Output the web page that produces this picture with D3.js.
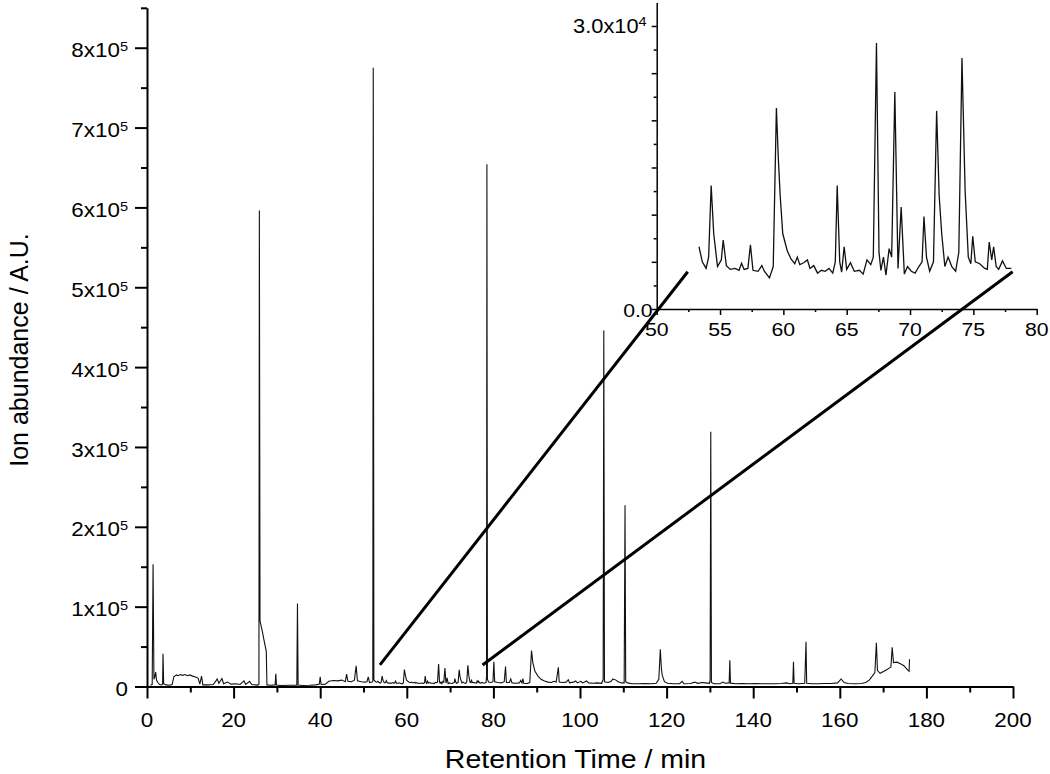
<!DOCTYPE html>
<html><head><meta charset="utf-8">
<script src="https://cdn.jsdelivr.net/npm/d3@7"></script>
<style>
body{margin:0;background:#fff}
svg{display:block}
text{font-family:"Liberation Sans", Arial, Helvetica, sans-serif; fill:#000}
</style>
</head><body>
<svg id="c" width="1050" height="774"></svg>
<script>
// ---- data (time in min, abundance in A.U.) ----
const mainEarly = [[0.8,1500],[1.2,2500],[1.4,153000],[1.6,9000],[1.8,12000],[2.0,18000],[2.2,8000],[2.5,5000],[2.9,2500],[3.4,2000],[3.6,3000],[3.7,41000],[3.85,3500],[4.4,2000],[5.2,1500],[5.8,2500],[6.2,12000],[6.8,14500],[7.2,13500],[7.7,15000],[8.2,14000],[8.8,15000],[9.3,13500],[9.9,14500],[10.5,13000],[11.2,12000],[11.8,10500],[12.2,3000],[12.6,13000],[12.9,2000],[14,2000],[15.3,2500],[15.8,6000],[16.2,9500],[16.6,4000],[17.3,10000],[17.7,3500],[18.6,5500],[19.4,3000],[20.5,3500],[21.5,2500],[22.4,7000],[22.8,2500],[23.7,6500],[24.2,2500],[25.5,1800],[25.85,3000],[25.95,596000],[26.1,82000],[26.6,70000],[27.1,56000],[27.55,44000],[27.7,2000],[28.6,1500],[29.6,2000],[29.75,16000],[29.9,1800],[31,1200],[33,1500],[34.6,1500],[34.75,104000],[34.9,1800],[36,1300],[37.5,1500],[39,2000],[39.8,3000],[40.0,12000],[40.2,2500],[41.2,3000],[42,6500],[43,7500],[44,7000],[45,8000],[45.8,6000],[46.1,15500],[46.4,6500],[47.2,6000],[47.9,8000],[48.3,26000],[48.6,7000],[49.5,6000],[50.3,5500],[50.8,6000],[51.1,12000],[51.4,5000],[52.0,5500],[52.15,7000],[52.25,775000],[52.4,8000],[52.8,6000],[53.1,5500]];

const insetTrace = [[53.34,6600],[53.6,5000],[53.9,4300],[54.1,5500],[54.3,13100],[54.5,8000],[54.8,4500],[55.1,5200],[55.25,7300],[55.5,4600],[55.8,4200],[56.2,4300],[56.5,4100],[56.7,4850],[56.9,4200],[57.2,4300],[57.4,6800],[57.6,4100],[58.0,4000],[58.3,4600],[58.5,4000],[58.9,3300],[59.2,4500],[59.45,21300],[59.6,16000],[59.75,12000],[59.95,8000],[60.3,6200],[60.6,5300],[60.9,4800],[61.1,5500],[61.3,4700],[61.6,4900],[61.9,5200],[62.1,4300],[62.4,4600],[62.7,3800],[63.0,4100],[63.3,4000],[63.6,4300],[63.9,3800],[64.1,5000],[64.25,13100],[64.45,5000],[64.6,3900],[64.8,6600],[65.0,4200],[65.3,4900],[65.6,4000],[66.0,4100],[66.3,3700],[66.6,5200],[66.9,4700],[67.1,5500],[67.35,28200],[67.55,6000],[67.7,4100],[67.9,5500],[68.1,3600],[68.35,6400],[68.55,5500],[68.8,23000],[69.05,4300],[69.3,10800],[69.55,3700],[69.8,4500],[70.1,4000],[70.4,3800],[70.7,4500],[70.95,5000],[71.1,9800],[71.3,5500],[71.55,4000],[71.85,5000],[72.1,21000],[72.3,12000],[72.5,8000],[72.75,4500],[73.0,5500],[73.3,4500],[73.6,4000],[73.85,6000],[74.1,26600],[74.35,12500],[74.6,5500],[74.8,4800],[74.95,7700],[75.15,5000],[75.5,4800],[75.9,4300],[76.1,4200],[76.25,7100],[76.45,5200],[76.6,6600],[76.8,4500],[77.0,4200],[77.3,5100],[77.6,4300],[78.0,4300]];

const mainLate = [[78.3,5000],[78.42,12000],[78.5,654000],[78.62,9000],[78.9,5500],[79.4,5000],[79.9,6000],[80.1,31000],[80.3,6000],[81,5000],[81.8,4500],[82.5,6000],[82.8,25000],[83.0,5000],[83.7,5000],[84.0,9500],[84.3,4500],[85.2,4000],[86,4500],[86.3,7500],[86.6,4500],[86.8,10000],[87.0,4000],[87.8,3800],[88.4,5000],[88.8,45000],[89.1,30000],[89.6,19000],[90.3,13000],[91,9000],[91.8,7000],[92.6,5500],[93.4,5000],[94,6500],[94.5,5500],[95,24000],[95.2,5500],[96,5000],[96.8,5500],[97.3,8500],[97.6,4500],[98.5,5500],[99,7000],[99.4,4500],[100.2,6500],[100.6,4500],[101.5,7000],[102,4500],[103,4000],[104,4500],[105,4000],[105.35,9000],[105.5,446000],[105.65,6000],[106.5,5000],[107.2,6500],[107.6,9500],[108.3,8000],[108.8,6000],[109.6,4500],[110.2,4500],[110.4,227000],[110.55,6000],[111,4500],[112,3500],[113.5,3500],[115,3800],[116.5,3500],[117.6,4000],[118.2,9000],[118.55,46600],[118.8,22000],[119,14000],[119.5,6000],[120.2,4000],[121.5,3500],[123,3500],[123.6,6500],[124,3500],[125.5,3800],[126.5,5500],[127.2,4000],[128.2,5000],[129,4500],[129.9,4000],[130.05,8000],[130.2,319000],[130.35,5000],[131,3500],[132.3,3500],[133,5500],[133.5,4000],[134.45,4500],[134.6,33000],[134.75,4200],[136,3500],[137.5,3800],[139,3500],[140.5,3800],[142,3500],[143.5,3500],[145,3500],[146.5,3800],[147.7,4500],[148.5,3500],[149.15,4000],[149.3,31000],[149.45,4000],[150.5,3500],[151.9,4000],[152.2,56000],[152.35,4000],[153.5,3500],[155,3500],[156.5,3800],[158,3800],[159.5,4500],[160.3,9400],[161,5000],[162,3800],[163.5,3500],[165,3800],[166,5000],[166.8,8000],[167.5,13000],[168.1,17500],[168.45,54800],[168.7,20000],[169.3,16500],[170.2,19000],[171,21500],[171.8,24500],[172.1,49000],[172.4,30000],[173.2,30500],[174,28500],[174.8,26000],[175.6,21000],[176.0,19000],[176.1,34000]];

const mainMajorX = [0,20,40,60,80,100,120,140,160,180,200];
const mainMinorX = [10,30,50,70,90,110,130,150,170,190];
const mainMajorY = [0,100000,200000,300000,400000,500000,600000,700000,800000];
const mainMinorY = [50000,150000,250000,350000,450000,550000,650000,750000,850000];
const insetMajorX = [50,55,60,65,70,75,80];
const insetMinorX = [52.5,57.5,62.5,67.5,72.5,77.5];
const insetMajorY = [0,5000,10000,15000,20000,25000,30000];
const insetMinorY = [2500,7500,12500,17500,22500,27500];
const insetLabelY = [0,30000];
// zoom connector lines: from main-plot coords to inset coords
const zoomLines = [{from:[53.8,27000], to:[52.45,3950]}, {from:[77.5,27000], to:[78.1,3950]}];

// ---- scales ----
const svg = d3.select('#c');
const x = d3.scaleLinear().domain([0,200]).range([147,1013]);
const y = d3.scaleLinear().domain([0,850000]).range([686.5,7.8]);
const xi = d3.scaleLinear().domain([50,80]).range([656.7,1036.7]);
const yi = d3.scaleLinear().domain([0,32500]).range([309,2.4]);
const SX = 1.12;

// ---- main trace ----
const mainSeries = mainEarly.concat(insetTrace, mainLate);
svg.append('path')
  .attr('d', d3.line().x(d=>x(d[0])).y(d=>y(d[1]))(mainSeries))
  .attr('fill','none').attr('stroke','#111').attr('stroke-width',1.1);

// ---- inset trace ----
svg.append('path')
  .attr('d', d3.line().x(d=>xi(d[0])).y(d=>yi(d[1]))(insetTrace))
  .attr('fill','none').attr('stroke','#111').attr('stroke-width',1.3);

function styleAxis(g, sw){
  g.selectAll('path,line').attr('stroke','#000').attr('stroke-width',sw);
  g.selectAll('text').remove();
}
function addAxis(tr, gen, major, minor, sMaj, sMin, sw){
  const g = svg.append('g').attr('transform',tr);
  g.call(gen.tickValues(major).tickSize(sMaj).tickSizeOuter(0).tickFormat(''));
  styleAxis(g, sw);
  const g2 = svg.append('g').attr('transform',tr);
  g2.call(gen.tickValues(minor).tickSize(sMin).tickSizeOuter(0).tickFormat(''));
  g2.select('.domain').remove();
  styleAxis(g2, sw);
}
// main axes
addAxis(`translate(0,${y(0)})`, d3.axisBottom(x), mainMajorX, mainMinorX, 12, 6, 2);
addAxis(`translate(${x(0)},0)`, d3.axisLeft(y), mainMajorY, mainMinorY, 12, 6, 2);
// inset axes
addAxis(`translate(0,${yi(0)})`, d3.axisBottom(xi), insetMajorX, insetMinorX, 6, 3, 1.5);
addAxis(`translate(${xi(50)},0)`, d3.axisLeft(yi), insetMajorY, insetMinorY, 5, 3, 1.5);

// ---- tick labels ----
function label(px, py, anchor, size, main, sup, supSize, supDy){
  const t = svg.append('text')
    .attr('transform',`translate(${px},${py}) scale(${SX},1)`)
    .attr('text-anchor',anchor).attr('font-size',size).text(main);
  if(sup){ t.append('tspan').attr('font-size',supSize).attr('dy',supDy).text(sup); }
  return t;
}
mainMajorX.forEach(v=>label(x(v), 726.7, 'middle', 20, String(v)));
mainMajorY.forEach(v=>{
  if(v===0) label(128, y(v)+9.6, 'end', 20, '0');
  else label(128, y(v)+9.6, 'end', 20, `${v/100000}x10`, '5', 13, -6);
});
insetMajorX.forEach(v=>label(xi(v), 336, 'middle', 19, String(v)));
insetLabelY.forEach(v=>{
  if(v===0) label(xi(50)-4, yi(v)+8, 'end', 19, '0.0');
  else label(xi(50)-10, yi(v)+7.5, 'end', 19.5, `${(v/10000).toFixed(1)}x10`, '4', 13, -7);
});

// ---- zoom connector lines ----
svg.selectAll('line.zoom').data(zoomLines).enter().append('line')
  .attr('class','zoom')
  .attr('x1',d=>x(d.from[0])).attr('y1',d=>y(d.from[1]))
  .attr('x2',d=>xi(d.to[0])).attr('y2',d=>yi(d.to[1]))
  .attr('stroke','#000').attr('stroke-width',3);

// ---- axis titles ----
svg.append('text').attr('transform',`translate(575.5,768) scale(1.14,1)`)
  .attr('text-anchor','middle').attr('font-size',25).text('Retention Time / min');
svg.append('text').attr('transform',`translate(28,350) rotate(-90)`)
  .attr('text-anchor','middle').attr('font-size',25).text('Ion abundance / A.U.');
</script>
</body></html>
